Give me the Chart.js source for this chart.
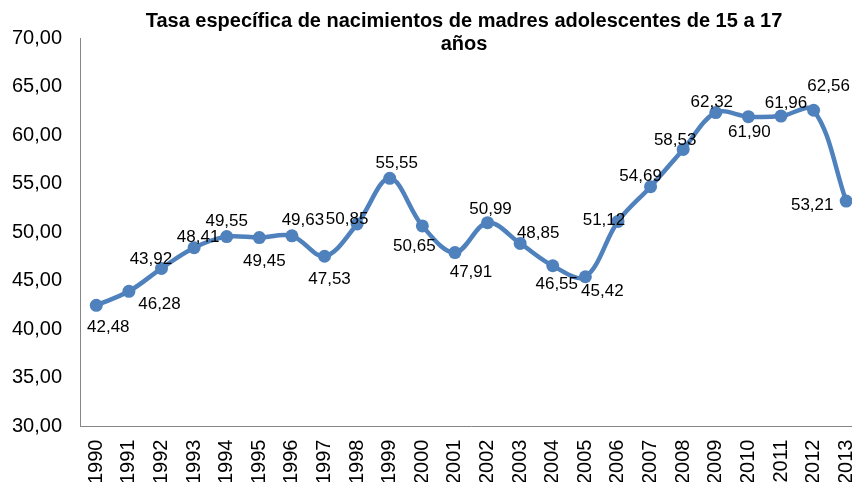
<!DOCTYPE html>
<html>
<head>
<meta charset="utf-8">
<script src="https://cdn.jsdelivr.net/npm/chart.js@4/dist/chart.umd.min.js"></script>
<style>
  html, body { margin: 0; padding: 0; background: #fff; overflow: hidden; }
  #wrap { width: 869px; height: 497px; }
</style>
</head>
<body>
<div id="wrap"><canvas id="chart" width="869" height="497"></canvas></div>
<script>
var years = ["1990", "1991", "1992", "1993", "1994", "1995", "1996", "1997", "1998", "1999", "2000", "2001",
  "2002", "2003", "2004", "2005", "2006", "2007", "2008", "2009", "2010", "2011", "2012", "2013"];
var rates = [42.48, 43.92, 46.28, 48.41, 49.55, 49.45, 49.63, 47.53, 50.85, 55.55, 50.65, 47.91,
  50.99, 48.85, 46.55, 45.42, 51.12, 54.69, 58.53, 62.32, 61.90, 61.96, 62.56, 53.21];
var titleLines = ["Tasa específica de nacimientos de madres adolescentes de 15 a 17", "años"];
var yMin = 30;
var yMax = 70;
var yStep = 5;

// where each value label sits relative to its point (Excel had them moved by hand)
var labelShift = [[12, 22], [22, -32], [-2, 36], [4, -10], [0, -15], [5, 24], [11, -16], [5, 23],
  [-10, -5], [7, -15], [-8, 20], [16, 20], [3, -13], [18, -10], [4, 19], [17, 15], [-14, -1],
  [-10, -10], [-8, -9], [-4, -10], [1, 16], [5, -13], [15, -24], [-34, 4]];

var blue = "#4f81bd";

function fmt(v) {
  return v.toFixed(2).replace(".", ",");
}

Chart.defaults.font.family = "'Liberation Sans', Arial, sans-serif";
Chart.defaults.color = "#000";

var valueLabels = {
  id: "valueLabels",
  afterDatasetsDraw: function (chart) {
    var ctx = chart.ctx;
    var pts = chart.getDatasetMeta(0).data;
    ctx.save();
    ctx.font = "17px 'Liberation Sans', Arial, sans-serif";
    ctx.fillStyle = "#000";
    ctx.textAlign = "center";
    ctx.textBaseline = "middle";
    pts.forEach(function (p, i) {
      ctx.fillText(fmt(rates[i]), p.x + labelShift[i][0], p.y + labelShift[i][1]);
    });
    ctx.restore();
  }
};

var topTitle = {
  id: "topTitle",
  afterDraw: function (chart) {
    var ctx = chart.ctx;
    ctx.save();
    ctx.font = "bold 20px 'Liberation Sans', Arial, sans-serif";
    ctx.fillStyle = "#000";
    ctx.textAlign = "center";
    ctx.textBaseline = "middle";
    ctx.fillText(titleLines[0], 464, 21);
    ctx.fillText(titleLines[1], 464, 44);
    ctx.restore();
  }
};

new Chart(document.getElementById("chart"), {
  type: "line",
  data: {
    labels: years,
    datasets: [{
      data: rates,
      borderColor: blue,
      backgroundColor: blue,
      borderWidth: 4.5,
      tension: 0.35,
      pointRadius: 6.5,
      pointBorderWidth: 0,
      pointBackgroundColor: blue,
      clip: false
    }]
  },
  options: {
    responsive: false,
    animation: false,
    layout: { padding: { left: 12, top: 38, right: 1, bottom: 0 } },
    plugins: {
      legend: { display: false },
      tooltip: { enabled: false }
    },
    scales: {
      x: {
        offset: true,
        grid: { display: false, drawTicks: false },
        border: { display: true, color: "#868686", width: 1 },
        ticks: {
          font: { size: 20 },
          color: "#000",
          minRotation: 90,
          maxRotation: 90,
          autoSkip: false,
          padding: 13
        },
        afterFit: function (s) {
          s.paddingLeft = 0;
          s.paddingRight = 0;
        }
      },
      y: {
        min: yMin,
        max: yMax,
        grid: { display: false, drawTicks: false },
        border: { display: true, color: "#868686", width: 1 },
        ticks: {
          stepSize: yStep,
          font: { size: 20 },
          color: "#000",
          padding: 18,
          callback: function (v) { return fmt(v); }
        },
        afterFit: function (s) {
          s.width = 68;
        }
      }
    }
  },
  plugins: [valueLabels, topTitle]
});
</script>
</body>
</html>
